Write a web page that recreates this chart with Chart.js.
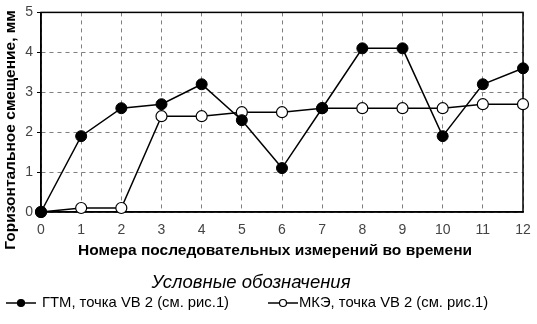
<!DOCTYPE html>
<html>
<head>
<meta charset="utf-8">
<script src="https://cdn.jsdelivr.net/npm/chart.js@4"></script>
<style>
  html, body { margin: 0; padding: 0; background: #fff; }
  #wrap { width: 537px; height: 324px; }
</style>
</head>
<body>
<div id="wrap"><canvas id="myChart" width="537" height="324"></canvas></div>
<script>
// measurement numbers along the x axis
let steps = ['0', '1', '2', '3', '4', '5', '6', '7', '8', '9', '10', '11', '12'];
// horizontal displacement, mm
let gtmValues = [0, 1.9, 2.6, 2.7, 3.2, 2.3, 1.1, 2.6, 4.1, 4.1, 1.9, 3.2, 3.6];
let mkeValues = [0, 0.1, 0.1, 2.4, 2.4, 2.5, 2.5, 2.6, 2.6, 2.6, 2.6, 2.7, 2.7];
let yTicks = [0, 1, 2, 3, 4, 5];

let gtmLabel = 'ГТМ, точка VB 2 (см. рис.1)';
let mkeLabel = 'МКЭ, точка VB 2 (см. рис.1)';
let yTitle = 'Горизонтальное смещение, мм';
let xTitle = 'Номера последовательных измерений во времени';
let legendTitle = 'Условные обозначения';

const FONT = 'Arial, "Liberation Sans", sans-serif';
Chart.defaults.font.family = FONT;
Chart.defaults.color = '#000';

// solid frame around the whole plot area
const frame = {
    id: 'frame',
    beforeDatasetsDraw(chart) {
        let a = chart.chartArea, ctx = chart.ctx;
        ctx.save();
        ctx.strokeStyle = '#000';
        ctx.lineWidth = 1.5;
        ctx.strokeRect(a.left, a.top, a.right - a.left, a.bottom - a.top);
        ctx.restore();
    }
};

/**
 * Draws a legend icon: short line with the series marker in the middle
 */
function drawIcon(ctx, x, y, filled) {
    ctx.strokeStyle = '#000';
    ctx.lineWidth = 1.5;
    ctx.beginPath();
    ctx.moveTo(x, y); ctx.lineTo(x + 30, y);
    ctx.stroke();
    ctx.beginPath();
    ctx.arc(x + 15, y, 3.5, 0, Math.PI * 2);
    ctx.fillStyle = filled ? '#000' : '#fff';
    ctx.fill();
    ctx.lineWidth = 1.2;
    ctx.stroke();
}

// axis titles and the legend block under the x axis title
const captions = {
    id: 'captions',
    afterDraw(chart) {
        let ctx = chart.ctx;
        ctx.save();
        ctx.fillStyle = '#000';
        ctx.textBaseline = 'middle';

        ctx.save();
        ctx.translate(11, 130);
        ctx.rotate(-Math.PI / 2);
        ctx.textAlign = 'center';
        ctx.font = 'bold 15.5px ' + FONT;
        ctx.fillText(yTitle, 0, 0);
        ctx.restore();

        ctx.textAlign = 'center';
        ctx.font = 'bold 15.5px ' + FONT;
        ctx.fillText(xTitle, 275, 251);

        ctx.font = 'italic 18.5px ' + FONT;
        ctx.fillText(legendTitle, 251, 283);

        ctx.textAlign = 'left';
        ctx.font = '14.8px ' + FONT;
        drawIcon(ctx, 6, 303, true);
        ctx.fillStyle = '#000';
        ctx.fillText(gtmLabel, 42, 303);
        drawIcon(ctx, 268, 303, false);
        ctx.fillStyle = '#000';
        ctx.fillText(mkeLabel, 299, 303);
        ctx.restore();
    }
};

let ctx = document.getElementById('myChart').getContext('2d');
let myChart = new Chart(ctx, {
    type: 'line',
    data: {
        labels: steps,
        datasets: [{
            label: gtmLabel,
            data: gtmValues,
            borderColor: '#000',
            borderWidth: 1.5,
            pointBackgroundColor: '#000',
            pointBorderColor: '#000',
            pointRadius: 5.5,
            pointBorderWidth: 1,
            fill: false,
            tension: 0
        }, {
            label: mkeLabel,
            data: mkeValues,
            borderColor: '#000',
            borderWidth: 1.5,
            pointBackgroundColor: '#fff',
            pointBorderColor: '#000',
            pointRadius: 5.5,
            pointBorderWidth: 1.2,
            fill: false,
            tension: 0
        }]
    },
    options: {
        responsive: false,
        animation: false,
        clip: false,
        layout: { padding: { left: 0, right: 14, top: 11, bottom: 61 } },
        scales: {
            x: {
                offset: false,
                afterFit: (axis) => { axis.height = 51; axis.paddingRight = 0; axis.paddingLeft = 0; },
                grid: { color: '#808080', lineWidth: 1, drawTicks: false },
                border: { display: true, color: '#000', width: 1.5, dash: [4, 4] },
                ticks: { color: '#444', font: { size: 14 }, padding: 10, maxRotation: 0 }
            },
            y: {
                min: 0,
                max: 5,
                afterBuildTicks: (axis) => { axis.ticks = yTicks.map(v => ({ value: v })); },
                afterFit: (axis) => { axis.width = 41; },
                grid: { color: '#808080', lineWidth: 1, tickLength: 4, tickColor: '#000' },
                border: { display: true, color: '#000', width: 1.5, dash: [4, 4] },
                ticks: { color: '#444', font: { size: 14 }, padding: 4 }
            }
        },
        plugins: {
            legend: { display: false },
            tooltip: { enabled: false }
        }
    },
    plugins: [frame, captions]
});
</script>
</body>
</html>
